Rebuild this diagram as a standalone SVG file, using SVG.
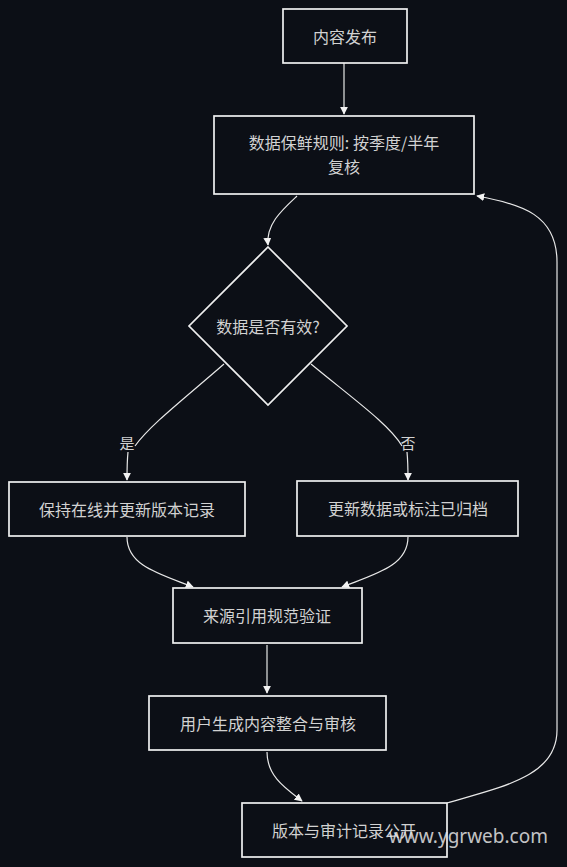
<svg xmlns="http://www.w3.org/2000/svg" width="567" height="867" viewBox="0 0 567 867">
<defs>
<marker id="arr" viewBox="0 0 10 10" refX="9" refY="5" markerWidth="8" markerHeight="8" markerUnits="userSpaceOnUse" orient="auto">
<path d="M0,0 L10,5 L0,10 z" fill="#f2f2f2"/>
</marker>
<style>
.box{fill:#0c0f16;stroke:#f0f0f0;stroke-width:1.7}
.edge{fill:none;stroke:#e8e8e8;stroke-width:1.2}
.t{font-family:"Noto Sans CJK SC","Noto Sans",sans-serif;font-size:16px;fill:#d2d2d2;text-anchor:middle;dominant-baseline:central}
.lbl{font-family:"Noto Sans CJK SC","Noto Sans",sans-serif;font-size:15px;fill:#d2d2d2;text-anchor:middle;dominant-baseline:central}
</style>
</defs>
<rect width="567" height="867" fill="#0c0f16"/>
<g id="connectors">
<path class="edge" d="M344,63 L344,114" marker-end="url(#arr)"/>
<path class="edge" d="M297,196 C282,210 266,224 268,245" marker-end="url(#arr)"/>
<path class="edge" d="M224,364 C185,398 150,425 135,446 M128,452 C127,462 127,470 127,480" marker-end="url(#arr)"/>
<path class="edge" d="M311,364 C352,398 390,425 402,446 M407,452 C408,462 408,470 408,480" marker-end="url(#arr)"/>
<path class="edge" d="M127,537 C127,566 160,574 193,587" marker-end="url(#arr)"/>
<path class="edge" d="M408,537 C408,566 375,574 342,587" marker-end="url(#arr)"/>
<path class="edge" d="M267,645 L267,693" marker-end="url(#arr)"/>
<path class="edge" d="M267,752 C267,776 285,788 302,801" marker-end="url(#arr)"/>
<path class="edge" d="M447,803 C505,786 557,776 557,730 L557,262 C557,215 522,204 477,196" marker-end="url(#arr)"/>
<text class="lbl" x="127" y="442">是</text>
<text class="lbl" x="408" y="442">否</text>
</g>
<g id="n1"><rect class="box" x="283" y="9" width="124" height="54"/><text class="t" x="345" y="36">内容发布</text></g>
<g id="n2"><rect class="box" x="214" y="116" width="260" height="78"/><text class="t" x="344" y="142">数据保鲜规则: 按季度/半年</text><text class="t" x="344" y="166">复核</text></g>
<g id="n3"><path class="box" d="M268,247 L347,326 L268,405 L189,326 Z"/><text class="t" x="268" y="326">数据是否有效?</text></g>
<g id="n4"><rect class="box" x="9" y="482" width="236" height="54"/><text class="t" x="127" y="509">保持在线并更新版本记录</text></g>
<g id="n5"><rect class="box" x="297" y="481" width="221" height="55"/><text class="t" x="408" y="508">更新数据或标注已归档</text></g>
<g id="n6"><rect class="box" x="173" y="588" width="189" height="55"/><text class="t" x="267" y="615">来源引用规范验证</text></g>
<g id="n7"><rect class="box" x="149" y="696" width="237" height="54"/><text class="t" x="268" y="723">用户生成内容整合与审核</text></g>
<g id="n8"><rect class="box" x="242" y="803" width="205" height="54"/><text class="t" x="344" y="830">版本与审计记录公开</text></g>
<text x="548" y="843" font-family="Noto Sans, sans-serif" font-size="19" fill="#e6e6e6" fill-opacity="0.85" text-anchor="end">www.ygrweb.com</text>
</svg>
